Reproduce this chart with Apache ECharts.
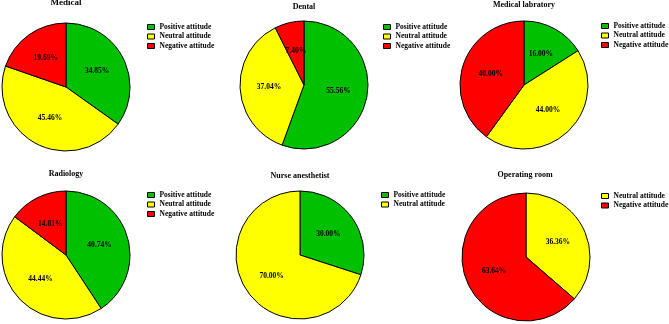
<!DOCTYPE html>
<html>
<head>
<meta charset="utf-8">
<script src="https://cdn.jsdelivr.net/npm/echarts@6/dist/echarts.min.js"></script>
<style>
  html, body { margin: 0; padding: 0; background: #fff; }
  #main { width: 669px; height: 324px; }
</style>
</head>
<body>
<div id="main"></div>
<script>
// chart data
const titles = ['Medical', 'Dental', 'Medical labratory', 'Radiology', 'Nurse anesthetist', 'Operating room'];
const medicalNames = ['Positive attitude', 'Neutral attitude', 'Negative attitude'];
const medicalValues = [34.85, 45.46, 19.69];
const dentalNames = ['Positive attitude', 'Neutral attitude', 'Negative attitude'];
const dentalValues = [55.56, 37.04, 7.40];
const labNames = ['Positive attitude', 'Neutral attitude', 'Negative attitude'];
const labValues = [16.00, 44.00, 40.00];
const radiologyNames = ['Positive attitude', 'Neutral attitude', 'Negative attitude'];
const radiologyValues = [40.74, 44.44, 14.81];
const nurseNames = ['Positive attitude', 'Neutral attitude'];
const nurseValues = [30.00, 70.00];
const orNames = ['Neutral attitude', 'Negative attitude'];
const orValues = [36.36, 63.64];

const colorOf = {
    'Positive attitude': '#00c000',
    'Neutral attitude': '#ffff00',
    'Negative attitude': '#ff0000'
};

const groups = [
    [medicalNames, medicalValues],
    [dentalNames, dentalValues],
    [labNames, labValues],
    [radiologyNames, radiologyValues],
    [nurseNames, nurseValues],
    [orNames, orValues]
];

// layout of each panel
const pieCenters = [[66, 87], [304, 85], [524, 85], [66, 255], [300, 255], [526, 257]];
const pieRadius = 64;
const titlePos = [[66, -2, 9], [304, 3, 8], [524, 1, 8], [66, 170, 8], [300, 172, 8], [525, 171, 8]];
const legendPos = [[147, 23], [383, 23], [601, 22], [147, 191], [381, 191], [601, 192]];

const serif = '"Liberation Serif", "Times New Roman", serif';

let myChart = echarts.init(document.getElementById('main'));
myChart.setOption({
    backgroundColor: '#fff',
    animation: false,
    title: titles.map((t, i) => ({
        text: t,
        left: titlePos[i][0],
        top: titlePos[i][1],
        textAlign: 'center',
        padding: 0,
        textStyle: {
            fontFamily: serif,
            fontWeight: 'bold',
            fontSize: titlePos[i][2],
            color: '#000'
        }
    })),
    legend: groups.map((g, i) => ({
        data: g[0],
        orient: 'vertical',
        left: legendPos[i][0],
        top: legendPos[i][1],
        padding: 0,
        itemGap: 1.5,
        itemWidth: 7,
        itemHeight: 5,
        icon: 'rect',
        selectedMode: false,
        itemStyle: { borderColor: '#000', borderWidth: 1 },
        textStyle: {
            fontFamily: serif,
            fontWeight: 'bold',
            fontSize: 7.5,
            lineHeight: 7,
            color: '#000'
        }
    })),
    series: groups.map((g, i) => ({
        type: 'pie',
        center: pieCenters[i],
        radius: [0, pieRadius],
        startAngle: 90,
        clockwise: true,
        silent: true,
        itemStyle: { borderColor: '#000', borderWidth: 1 },
        label: {
            position: 'inside',
            fontFamily: serif,
            fontWeight: 'bold',
            fontSize: 7.5,
            color: '#000',
            formatter: p => p.value.toFixed(2) + '%'
        },
        labelLine: { show: false },
        data: g[0].map((n, k) => ({
            name: n,
            value: g[1][k],
            itemStyle: { color: colorOf[n] }
        }))
    }))
});
</script>
</body>
</html>
